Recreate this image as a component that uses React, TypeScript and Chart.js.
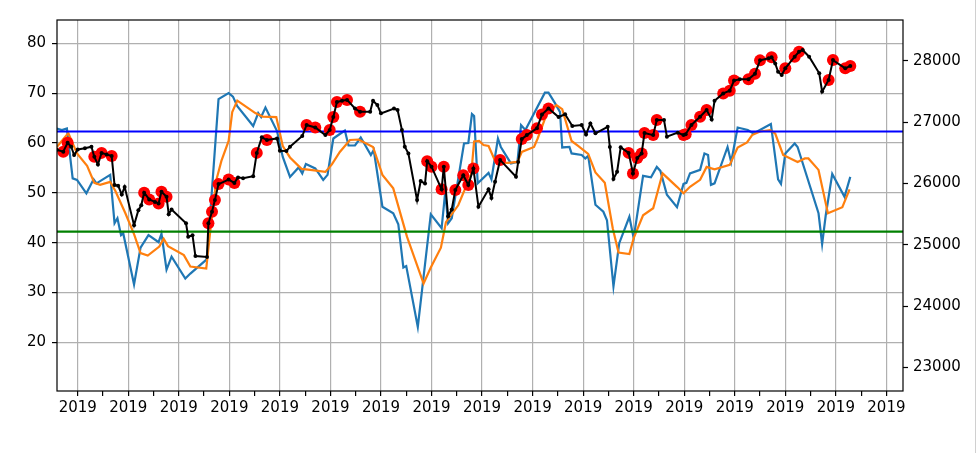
import React, { useEffect, useRef } from 'react';
import { Chart, registerables } from 'chart.js';

Chart.register(...registerables);

// ---- axis settings (data units) ----
const X_MIN = -2.87;
const X_MAX = 114.3;
const LEFT_MIN = 10.23;
const LEFT_MAX = 84.68;
const RIGHT_MIN = 22613;
const RIGHT_MAX = 28669;
const xMajorStep = 7;
const xMinorStep = 3.5;
const xTickLabel = '2019';
const leftTicks = [20, 30, 40, 50, 60, 70, 80];
const rightTicks = [23000, 24000, 25000, 26000, 27000, 28000];

// ---- reference levels (left axis) ----
const upperLevel = 62.3;
const lowerLevel = 42.2;

// ---- price series (right axis) ----
const blackX = [
  -2.9, -2.0, -1.4, -0.9, -0.5, 0, 1.0, 1.9, 2.3, 2.8,
  3.3, 4.0, 4.7, 5.1, 5.6, 6.1, 6.5, 7.8, 8.4, 8.8,
  9.2, 9.9, 10.7, 11.2, 11.6, 12.3, 12.6, 13.0, 15.0, 15.3,
  15.9, 16.3, 17.9, 18.1, 18.6, 19.0, 19.5, 20.9, 21.7, 22.2,
  22.9, 24.3, 24.8, 25.5, 26.2, 27.6, 28.0, 28.9, 29.4, 31.1,
  31.7, 32.9, 34.3, 34.9, 35.4, 35.9, 36.6, 37.3, 38.4, 39.1,
  40.5, 40.9, 41.5, 42.0, 43.8, 44.3, 44.9, 45.3, 45.8, 47.0,
  47.5, 48.1, 48.4, 49.0, 50.4, 50.7, 51.3, 51.8, 52.3, 53.4,
  54.1, 54.8, 55.5, 56.9, 57.3, 57.8, 58.5, 60.7, 61.0, 61.5,
  62.2, 63.6, 64.3, 65.2, 66.6, 67.5, 68.5, 69.8, 70.4, 71.0,
  71.7, 73.4, 73.7, 74.2, 74.7, 75.2, 76.3, 76.9, 77.5, 78.1,
  78.5, 79.7, 80.2, 81.2, 81.6, 83.1, 83.9, 84.2, 85.0, 86.2,
  87.1, 87.8, 88.2, 89.4, 90.3, 90.9, 91.7, 92.9, 93.8, 94.5,
  95.7, 96.1, 96.6, 97.0, 97.5, 98.0, 99.3, 99.9, 100.4, 101.3,
  102.7, 103.1, 104.0, 104.6, 106.3, 107.0,
];
const blackPrice = [
  26550, 26520, 26665, 26600, 26465, 26555, 26575, 26600, 26435, 26310,
  26500, 26475, 26450, 25975, 25965, 25820, 25945, 25320, 25565, 25645,
  25850, 25740, 25700, 25675, 25865, 25785, 25500, 25575, 25350, 25130,
  25155, 24815, 24800, 25350, 25540, 25730, 25990, 26065, 26010, 26100,
  26085, 26120, 26500, 26755, 26710, 26735, 26535, 26530, 26600, 26775,
  26955, 26915, 26790, 26875, 27085, 27330, 27350, 27365, 27225, 27170,
  27170, 27350, 27280, 27145, 27225, 27200, 26875, 26600, 26490, 25730,
  26040, 26000, 26365, 26275, 25905, 26275, 25465, 25575, 25895, 26135,
  25975, 26245, 25620, 25905, 25765, 26030, 26385, 26110, 26350, 26725,
  26790, 26900, 27125, 27225, 27085, 27130, 26940, 26955, 26800, 26980,
  26820, 26925, 26595, 26075, 26190, 26590, 26500, 26165, 26415, 26490,
  26825, 26790, 27035, 27035, 26765, 26830, 26790, 26805, 26955, 27090,
  27200, 27045, 27350, 27470, 27515, 27680, 27700, 27700, 27790, 28010,
  28045, 28060, 27960, 27825, 27770, 27880, 28070, 28150, 28180, 28070,
  27800, 27500, 27690, 28015, 27880, 27920,
];
// 1 = signal point (red marker)
const signal = [
  0, 1, 1, 0, 0, 0, 0, 0, 1, 0,
  1, 0, 1, 0, 0, 0, 0, 0, 0, 0,
  1, 1, 0, 1, 1, 1, 0, 0, 0, 0,
  0, 0, 0, 1, 1, 1, 1, 1, 1, 0,
  0, 0, 1, 0, 1, 0, 0, 0, 0, 0,
  1, 1, 0, 1, 1, 1, 0, 1, 0, 1,
  0, 0, 0, 0, 0, 0, 0, 0, 0, 0,
  0, 0, 1, 1, 1, 1, 0, 0, 1, 1,
  1, 1, 0, 0, 0, 0, 1, 0, 0, 1,
  1, 1, 1, 1, 0, 0, 0, 0, 0, 0,
  0, 0, 0, 0, 0, 0, 1, 1, 1, 1,
  1, 1, 1, 0, 0, 0, 1, 1, 1, 1,
  1, 0, 0, 1, 1, 1, 0, 1, 1, 1,
  0, 1, 0, 0, 0, 1, 1, 1, 0, 0,
  0, 0, 1, 1, 1, 1,
];

// ---- indicator series (left axis) ----
const blueX = [
  -2.9, -2.2, -1.5, -0.7, -0.1, 1.2, 2.2, 2.6, 4.5, 5.1,
  5.5, 6.0, 6.3, 7.8, 8.7, 9.8, 11.2, 11.6, 12.3, 13.0,
  14.9, 15.6, 17.9, 19.5, 20.9, 21.5, 22.1, 24.3, 25.0,
  25.4, 26.0, 27.6, 28.4, 29.4, 30.6, 31.1, 31.6, 32.9, 34.0,
  34.6, 35.4, 36.3, 37.0, 37.5, 38.4, 39.2, 40.6, 41.0, 42.2,
  43.7, 44.4, 45.1, 45.5, 47.1, 48.9, 50.4, 50.9, 51.3, 51.8,
  53.5, 54.1, 54.6, 54.9, 55.4, 56.9, 57.3, 58.2, 58.6, 60.0,
  60.9, 61.4, 62.0, 64.7, 65.2, 66.1, 66.8, 67.1, 68.1, 68.4,
  69.8, 70.3, 70.7, 71.7, 72.8, 73.3, 74.2, 75.0, 76.4, 77.0,
  78.3, 79.4, 80.2, 80.7, 81.6, 83.0, 83.9, 84.3, 84.8, 86.2,
  86.8, 87.3, 87.7, 88.2, 90.0, 90.5, 91.4, 92.8, 93.6, 96.0,
  97.0, 97.4, 98.0, 99.3, 99.7, 102.6, 103.1, 103.6, 104.5, 106.2,
  107.0,
];
const blueVals = [
  62.9, 62.6, 62.9, 52.9, 52.6, 49.9, 52.7, 51.9, 53.6, 43.9,
  44.9, 41.5, 41.9, 31.6, 39.0, 41.5, 40.1, 41.8, 34.6, 37.2,
  32.8, 33.8, 36.7, 68.8, 70.0, 69.3, 67.4, 63.4, 66.0,
  65.2, 67.1, 62.4, 57.2, 53.2, 55.1, 53.9, 55.8, 54.9, 52.6,
  53.6, 60.9, 61.8, 62.5, 59.5, 59.5, 61.1, 57.6, 58.6, 47.2,
  45.9, 43.7, 35.0, 35.3, 23.1, 45.7, 42.9, 50.2, 43.9, 44.9,
  59.9, 60.0, 65.8, 65.4, 51.9, 54.0, 52.7, 60.9, 59.2, 55.9,
  56.2, 63.6, 62.6, 70.1, 70.1, 68.0, 66.2, 59.1, 59.2, 57.9,
  57.6, 56.9, 57.4, 47.6, 46.2, 44.5, 31.2, 39.9, 45.2, 40.9,
  53.4, 53.1, 55.2, 54.4, 49.6, 47.1, 51.8, 52.0, 53.9, 54.6,
  57.9, 57.6, 51.6, 51.9, 59.2, 56.2, 63.1, 62.6, 61.9, 63.8,
  52.7, 51.8, 57.9, 59.9, 59.2, 45.9, 39.7, 45.5, 53.8, 49.2,
  53.2,
];
const orangeX = [
  -2.9, -1.3, -0.1, 1.3, 2.3, 3.1, 4.5, 5.2, 6.6, 7.8,
  8.7, 9.7, 11.3, 11.9, 12.5, 14.7, 15.6, 17.8, 18.4, 19.2,
  19.9, 20.9, 21.4, 22.1, 24.6, 25.6, 27.5, 28.4, 29.4, 31.0,
  32.2, 34.3, 35.2, 36.3, 37.7, 38.9, 40.9, 42.2, 43.7, 45.6,
  47.9, 48.9, 50.3, 51.0, 52.7, 54.5, 54.9, 55.6, 56.2, 56.9,
  57.9, 59.6, 60.9, 61.5, 63.2, 63.7, 65.0, 66.3, 67.1, 68.4,
  69.3, 70.7, 71.7, 73.0, 74.1, 74.9, 76.4, 77.0, 78.3, 79.7,
  81.0, 83.0, 83.9, 84.8, 86.2, 87.1, 88.2, 90.3, 91.4, 92.7,
  93.4, 94.5, 95.9, 96.6, 97.7, 99.7, 100.7, 101.2, 102.6, 103.9,
  105.9, 106.9,
];
const orangeVals = [
  59.2, 62.0, 57.9, 55.4, 52.0, 51.6, 52.2, 50.4, 45.9, 41.7,
  37.9, 37.4, 39.2, 40.8, 39.3, 37.5, 35.2, 34.8, 42.9, 52.6,
  56.4, 60.4, 66.2, 68.5, 66.0, 65.3, 65.2, 59.4, 57.1, 54.8,
  54.6, 54.2, 55.7, 58.2, 60.6, 60.7, 59.2, 53.6, 50.9, 41.2,
  31.8, 35.0, 39.0, 44.1, 47.5, 53.8, 60.3, 60.4, 59.6, 59.4,
  56.1, 56.0, 56.2, 58.2, 59.2, 60.9, 66.0, 67.6, 66.8, 60.4,
  59.4, 57.8, 54.1, 52.0, 42.9, 38.0, 37.7, 40.9, 45.5, 46.9,
  53.9, 51.2, 49.9, 51.2, 52.6, 55.2, 54.7, 55.6, 59.1, 60.1,
  61.6, 62.3, 62.6, 61.9, 57.6, 56.2, 56.9, 56.9, 54.6, 45.9,
  47.1, 50.7,
];

const FONT = "'DejaVu Sans', 'Liberation Sans', sans-serif";

function pts(xs: number[], ys: number[]) {
  return xs.map((x, i) => ({ x, y: ys[i] }));
}

export default function App() {
  const ref = useRef<HTMLCanvasElement>(null);

  useEffect(() => {
    const canvas = ref.current;
    if (!canvas) return;
    const blackPts = pts(blackX, blackPrice);
    const redPts = blackPts.filter((_, i) => signal[i] === 1);
    const isMajor = (v: number) => Math.abs(v / xMajorStep - Math.round(v / xMajorStep)) < 1e-6;

    const frame = {
      id: 'frame',
      afterDraw(chart: any) {
        const { ctx, chartArea: a } = chart;
        ctx.save();
        ctx.strokeStyle = '#000';
        ctx.lineWidth = 1.2;
        ctx.strokeRect(a.left, a.top, a.right - a.left, a.bottom - a.top);
        ctx.restore();
      },
    };

    const chart = new Chart(canvas, {
      type: 'line',
      data: {
        datasets: [
          {
            data: pts(blueX, blueVals),
            yAxisID: 'y',
            borderColor: '#1f77b4',
            borderWidth: 2.2,
            pointRadius: 0,
            tension: 0,
            order: 6,
          },
          {
            data: pts(orangeX, orangeVals),
            yAxisID: 'y',
            borderColor: '#ff7f0e',
            borderWidth: 2.2,
            pointRadius: 0,
            tension: 0,
            order: 5,
          },
          {
            data: [{ x: X_MIN, y: upperLevel }, { x: X_MAX, y: upperLevel }],
            yAxisID: 'y',
            borderColor: '#0000ff',
            borderWidth: 2.2,
            pointRadius: 0,
            order: 4,
          },
          {
            data: [{ x: X_MIN, y: lowerLevel }, { x: X_MAX, y: lowerLevel }],
            yAxisID: 'y',
            borderColor: '#008000',
            borderWidth: 2.2,
            pointRadius: 0,
            order: 3,
          },
          {
            data: redPts,
            yAxisID: 'y1',
            showLine: false,
            pointRadius: 6,
            pointBackgroundColor: '#ff0000',
            pointBorderWidth: 0,
            borderColor: '#ff0000',
            order: 2,
          },
          {
            data: blackPts,
            yAxisID: 'y1',
            borderColor: '#000000',
            borderWidth: 2,
            pointRadius: 2,
            pointBackgroundColor: '#000000',
            pointBorderWidth: 0,
            tension: 0,
            order: 1,
          },
        ] as any,
      },
      options: {
        responsive: false,
        animation: false,
        events: [],
        layout: { padding: { left: 0, right: 0, top: 20, bottom: 0 } },
        plugins: { legend: { display: false }, tooltip: { enabled: false } },
        scales: {
          x: {
            type: 'linear',
            min: X_MIN,
            max: X_MAX,
            afterBuildTicks: (s: any) => {
              const t: { value: number }[] = [];
              for (let v = 0; v <= X_MAX; v += xMinorStep) t.push({ value: v });
              s.ticks = t;
            },
            afterFit: (s: any) => {
              s.height = 62;
            },
            ticks: {
              autoSkip: false,
              maxRotation: 0,
              minRotation: 0,
              padding: 3,
              color: '#000',
              font: { family: FONT, size: 15 },
              callback: (v: any) => (isMajor(Number(v)) ? xTickLabel : ''),
            },
            grid: {
              color: (c: any) => (c.tick && isMajor(c.tick.value) ? '#b0b0b0' : 'rgba(0,0,0,0)'),
              lineWidth: 1.2,
              tickColor: '#000',
              tickLength: 5,
              tickWidth: 1.2,
            },
            border: { display: false },
          },
          y: {
            type: 'linear',
            position: 'left',
            min: LEFT_MIN,
            max: LEFT_MAX,
            afterBuildTicks: (s: any) => {
              s.ticks = leftTicks.map((v) => ({ value: v }));
            },
            afterFit: (s: any) => {
              s.width = 57;
            },
            ticks: {
              padding: 6,
              color: '#000',
              font: { family: FONT, size: 15 },
              callback: (v: any) => String(v),
            },
            grid: {
              color: '#b0b0b0',
              lineWidth: 1.2,
              tickColor: '#000',
              tickLength: 5,
              tickWidth: 1.2,
            },
            border: { display: false },
          },
          y1: {
            type: 'linear',
            position: 'right',
            min: RIGHT_MIN,
            max: RIGHT_MAX,
            afterBuildTicks: (s: any) => {
              s.ticks = rightTicks.map((v) => ({ value: v }));
            },
            afterFit: (s: any) => {
              s.width = 77;
            },
            ticks: {
              padding: 5,
              color: '#000',
              font: { family: FONT, size: 15 },
              callback: (v: any) => String(v),
            },
            grid: {
              drawOnChartArea: false,
              tickColor: '#000',
              tickLength: 5,
              tickWidth: 1.2,
            },
            border: { display: false },
          },
        },
      } as any,
      plugins: [frame],
    });
    return () => chart.destroy();
  }, []);

  return (
    <div style={{ position: 'fixed', left: 0, top: 0, width: 980, height: 453, background: '#fff' }}>
      <canvas ref={ref} width={980} height={453} style={{ width: 980, height: 453, display: 'block' }} />
      <div style={{ position: 'absolute', left: 975, top: 0, width: 1, height: 453, background: '#d0d0d0' }} />
    </div>
  );
}
